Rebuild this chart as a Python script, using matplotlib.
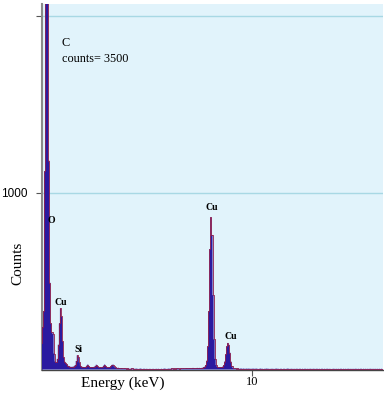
import numpy as np
import matplotlib
matplotlib.use("Agg")
import matplotlib.pyplot as plt

# EDS spectrum, 0.05 keV channels starting at 0 keV
channel_width = 0.05
counts = [
    # 0.00 - 0.95
    150, 240, 330, 1120, 3500, 3500, 3500, 1180, 490, 260,
    210, 200, 90, 45, 40, 60, 140, 260, 345, 300,
    # 1.00 - 1.95
    160, 70, 45, 38, 30, 22, 18, 16, 15, 15,
    16, 18, 25, 48, 80, 70, 40, 22, 16, 15,
    # 2.00 - 2.95
    14, 13, 15, 22, 28, 20, 14, 13, 14, 13,
    15, 20, 27, 20, 14, 12, 13, 12, 15, 22,
    # 3.00 - 3.95
    28, 20, 14, 12, 12, 14, 20, 26, 28, 18,
    12, 10, 9, 10, 8, 7, 8, 7, 6, 7,
    # 4.00 - 4.95
    6, 5, 6, 5, 4, 5, 6, 5, 4, 4,
    5, 4, 3, 4, 5, 4, 3, 4, 4, 3,
    # 5.00 - 5.95
    4, 3, 3, 4, 3, 3, 4, 3, 3, 4,
    3, 4, 3, 3, 4, 3, 4, 5, 4, 3,
    # 6.00 - 6.95
    4, 5, 4, 5, 6, 5, 6, 5, 6, 7,
    6, 5, 6, 7, 6, 7, 6, 7, 8, 7,
    # 7.00 - 7.95
    7, 8, 7, 8, 9, 8, 7, 8, 9, 8,
    9, 8, 9, 10, 12, 16, 25, 50, 130, 330,
    # 8.00 - 8.95
    680, 860, 760, 420, 170, 60, 25, 15, 12, 12,
    12, 13, 16, 24, 45, 85, 130, 150, 140, 95,
    # 9.00 - 9.95
    45, 20, 9, 6, 6, 5, 6, 5, 4, 5,
    5, 4, 5, 4, 4, 5, 4, 5, 4, 4,
    # 10.00 - 10.95
    4, 5, 4, 4, 5, 4, 3, 4, 5, 4,
    4, 3, 4, 4, 5, 4, 4, 3, 4, 4,
    # 11.00 - 11.95
    4, 3, 4, 5, 4, 4, 3, 4, 4, 3,
    4, 4, 3, 4, 5, 4, 3, 4, 4, 3,
    # 12.00 - 12.95
    4, 3, 4, 4, 3, 4, 4, 3, 4, 3,
    4, 4, 3, 4, 3, 4, 4, 3, 4, 4,
    # 13.00 - 13.95
    3, 4, 4, 3, 4, 3, 4, 4, 3, 4,
    3, 4, 4, 3, 4, 3, 3, 4, 4, 3,
    # 14.00 - 14.95
    4, 3, 4, 3, 4, 4, 3, 4, 3, 4,
    3, 4, 4, 3, 4, 3, 4, 3, 4, 4,
    # 15.00 - 16.20
    3, 4, 3, 4, 4, 3, 4, 3, 4, 3,
    4, 3, 4, 4, 3, 4, 3, 4, 3, 4,
    3, 4, 3, 4, 3,
]
energy = np.arange(len(counts)) * channel_width

peak_names = ["O", "Cu", "Si", "Cu", "Cu"]
peak_x = [0.47, 0.93, 1.76, 8.07, 8.98]
peak_y = [842, 378, 113, 915, 186]

fig = plt.figure(figsize=(3.84, 3.93), dpi=100)
ax = fig.add_axes([41.5 / 384, 1 - 369.5 / 393, (383 - 41.5) / 384, (369.5 - 4) / 393])
ax.set_facecolor("#e1f3fb")

ax.fill_between(energy, counts, step="mid", color="#2a1aa0", linewidth=0, zorder=3)
ax.step(energy, counts, where="mid", color="#8e1c4c", linewidth=0.6, zorder=4)

ax.set_xlim(0, (383 - 41.5) / 21.05)
ax.set_ylim(0, (369.5 - 4) / 0.177)

ax.set_yticks([1000, 2000])
ax.set_yticklabels(["1000", ""], fontsize=8.5, family="Liberation Sans")
ax.set_xticks([10])
ax.set_xticklabels(["10"], fontsize=9, family="Liberation Serif")
ax.tick_params(axis="both", length=4, width=0.8, color="#555555", pad=1)
ax.tick_params(axis="y", pad=6)
ax.yaxis.grid(True, color="#a8d8e4", linewidth=1.0, zorder=1)
ax.set_axisbelow(True)

for s in ["top", "right"]:
    ax.spines[s].set_visible(False)
ax.spines["left"].set_color("#8a8a8a")
ax.spines["left"].set_linewidth(1.5)
ax.spines["bottom"].set_color("#444444")
ax.spines["bottom"].set_linewidth(1.0)

fig.text(17.5 / 384, 1 - 263 / 393, "Counts", rotation=90, fontsize=11,
         family="Liberation Serif", ha="center", va="center")
fig.text(123 / 384, 1 - 383 / 393, "Energy (keV)", fontsize=11,
         family="Liberation Serif", ha="center", va="center")

fig.text(62 / 384, 1 - 43 / 393, "C", fontsize=8.8, family="Liberation Serif",
         ha="left", va="center")
fig.text(62 / 384, 1 - 59 / 393, "counts= 3500", fontsize=8.8,
         family="Liberation Serif", ha="left", va="center")
for name, x, y in zip(peak_names, peak_x, peak_y):
    ax.text(x, y, name, fontsize=7, family="Liberation Serif", weight="bold",
            ha="center", va="center", zorder=5)

fig.savefig("out.png", dpi=100)
